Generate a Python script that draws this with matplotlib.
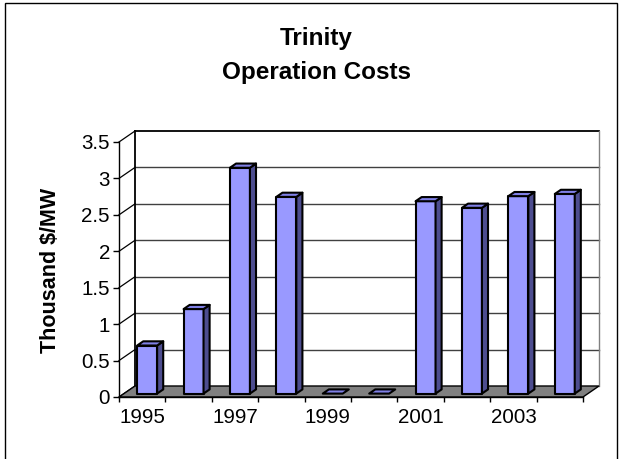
import numpy as np
import matplotlib
matplotlib.use("Agg")
import matplotlib.pyplot as plt
from matplotlib.patches import Polygon, Rectangle

# ---- data ----
years = ["1995", "1996", "1997", "1998", "1999", "2000", "2001", "2002", "2003", "2004"]
costs = [0.66, 1.16, 3.10, 2.70, 0.0, 0.0, 2.64, 2.55, 2.71, 2.74]
y_ticks = [0, 0.5, 1, 1.5, 2, 2.5, 3, 3.5]
y_tick_labels = ["0", "0.5", "1", "1.5", "2", "2.5", "3", "3.5"]
x_label_years = ["1995", "1997", "1999", "2001", "2003"]
title_lines = ["Trinity", "Operation Costs"]
y_label = "Thousand $/MW"

plt.rcParams['font.family'] = ['Liberation Sans', 'DejaVu Sans']

W, H = 621, 459
fig = plt.figure(figsize=(W / 100, H / 100), dpi=100)

# front plane of the plot area (pixels)
fx0, fx1, fy0, fy1 = 119, 583, 397, 142
ax = fig.add_axes([fx0 / W, (H - fy0) / H, (fx1 - fx0) / W, (fy0 - fy1) / H])
n = len(years)
ymax = y_ticks[-1]
ax.set_xlim(0, n)
ax.set_ylim(0, ymax)
ax.patch.set_visible(False)

# depth projection (pixel offsets converted to data units)
depth_px = (16, 11)
DX = depth_px[0] / ((fx1 - fx0) / n)
DY = depth_px[1] / ((fy0 - fy1) / ymax)

def P(x, y, d):
    return (x + d * DX, y + d * DY)

# floor
floor = Polygon([P(0, 0, 0), P(n, 0, 0), P(n, 0, 1), P(0, 0, 1)], closed=True,
                facecolor="#808080", edgecolor="black", lw=1.0, zorder=1, clip_on=False)
ax.add_patch(floor)

# back wall gridlines and left wall diagonals
for yv in y_ticks:
    if yv > 0:
        ax.plot([P(0, yv, 1)[0], P(n, yv, 1)[0]], [P(0, yv, 1)[1]] * 2,
                color="black" if yv == ymax else "#404040", lw=1.0 if yv < ymax else 1.3,
                zorder=0.5, clip_on=False)
    ax.plot([0, DX], [yv, yv + DY], color="black", lw=0.9, zorder=0.5, clip_on=False)
# back wall left and right edges
ax.plot([DX, DX], [DY, ymax + DY], color="black", lw=1.3, zorder=0.5, clip_on=False)
ax.plot([n + DX, n + DX], [DY, ymax + DY], color="#808080", lw=1.0, zorder=0.5, clip_on=False)

# bars
w = 0.43
d0, d1 = 0.31, 0.69
face_c, side_c, top_c = "#9999FF", "#4D4D8F", "#8080E6"
for i, v in enumerate(costs):
    xl = i + 0.5 - w / 2
    xr = i + 0.5 + w / 2
    kw = dict(closed=True, edgecolor="black", lw=1.5, joinstyle="round", clip_on=False, zorder=3)
    if v > 0:
        ax.add_patch(Polygon([P(xl, 0, d0), P(xr, 0, d0), P(xr, v, d0), P(xl, v, d0)],
                             facecolor=face_c, **kw))
        ax.add_patch(Polygon([P(xr, 0, d0), P(xr, 0, d1), P(xr, v, d1), P(xr, v, d0)],
                             facecolor=side_c, **kw))
    ax.add_patch(Polygon([P(xl, v, d0), P(xr, v, d0), P(xr, v, d1), P(xl, v, d1)],
                         facecolor=top_c, **kw))

# axes styling
for s in ["top", "right"]:
    ax.spines[s].set_visible(False)
for s in ["left", "bottom"]:
    ax.spines[s].set_linewidth(1.0)
    ax.spines[s].set_zorder(4)
ax.set_yticks(y_ticks)
ax.set_yticklabels(y_tick_labels)
ax.tick_params(axis="y", length=4.3, width=1.0, pad=2.2, labelsize=14.8)
ax.set_xticks(np.arange(0, n + 1))
ax.set_xticklabels([])
ax.tick_params(axis="x", which="major", length=3.6, width=1.0)
lab_pos = [years.index(y) + 0.5 for y in x_label_years]
ax.set_xticks(lab_pos, minor=True)
ax.set_xticklabels(x_label_years, minor=True)
ax.tick_params(axis="x", which="minor", length=0, pad=8, labelsize=14.8)

# y label
fig.text(51 / W, (H - 270) / H, y_label, rotation=90, ha="center", va="center",
         fontsize=15.5, fontweight="bold")

# title
fig.text(316 / W, (H - 45) / H, title_lines[0], ha="center", va="baseline",
         fontsize=17.5, fontweight="bold")
fig.text(316 / W, (H - 79) / H, title_lines[1], ha="center", va="baseline",
         fontsize=17.5, fontweight="bold")

# outer frame
fig.patches.append(Rectangle((5 / W, -2 / H), 612 / W, (H - 3 + 2) / H,
                             transform=fig.transFigure, fill=False,
                             edgecolor="black", lw=1.0))

fig.savefig("out.png", dpi=100)
